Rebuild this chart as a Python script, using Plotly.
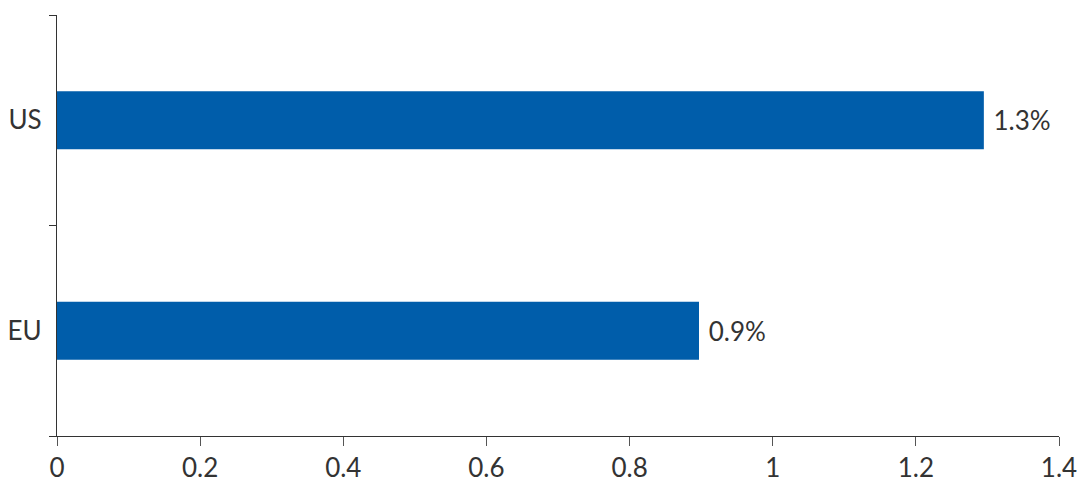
import plotly.graph_objects as go

categories = ["EU", "US"]
values = [0.897, 1.295]
labels = ["0.9%", "1.3%"]
x_ticks = [0, 0.2, 0.4, 0.6, 0.8, 1, 1.2, 1.4]
x_tick_text = ["0", "0.2", "0.4", "0.6", "0.8", "1", "1.2", "1.4"]

font_family = "Lato, Noto Sans, sans-serif"
text_color = "#333333"
font_size = 26

fig = go.Figure(
    go.Bar(
        y=categories,
        x=values,
        orientation="h",
        marker=dict(color="#005DAA", line=dict(width=0)),
        text=[" " + t for t in labels],
        textposition="outside",
        textfont=dict(family=font_family, size=font_size, color=text_color),
        cliponaxis=False,
        hoverinfo="skip",
    )
)

# page body has an 8px default margin, so the figure is offset by (8, 8)
fig.update_layout(
    width=1077,
    height=475,
    margin=dict(l=49, r=26, t=7, b=47),
    plot_bgcolor="white",
    paper_bgcolor="white",
    bargap=0.7245,
    showlegend=False,
    font=dict(family=font_family, size=font_size, color=text_color),
)

fig.update_xaxes(
    range=[0, 1.4],
    tickvals=x_ticks,
    ticktext=x_tick_text,
    showgrid=False,
    zeroline=False,
    showline=True,
    linecolor="#333333",
    linewidth=1.3,
    ticks="outside",
    ticklen=9,
    tickcolor="#555555",
    tickwidth=1.3,
    ticklabelstandoff=0,
    automargin=False,
    tickfont=dict(family=font_family, size=font_size, color=text_color),
)

fig.update_yaxes(
    type="category",
    categoryorder="array",
    categoryarray=categories,
    range=[-0.5, 1.5],
    tickson="boundaries",
    showgrid=False,
    zeroline=False,
    showline=True,
    linecolor="#333333",
    linewidth=1.3,
    ticks="outside",
    ticklen=7,
    tickcolor="#333333",
    tickwidth=1.3,
    ticklabelstandoff=9,
    automargin=False,
    tickfont=dict(family=font_family, size=font_size, color=text_color),
)

fig.write_html("out.html")
